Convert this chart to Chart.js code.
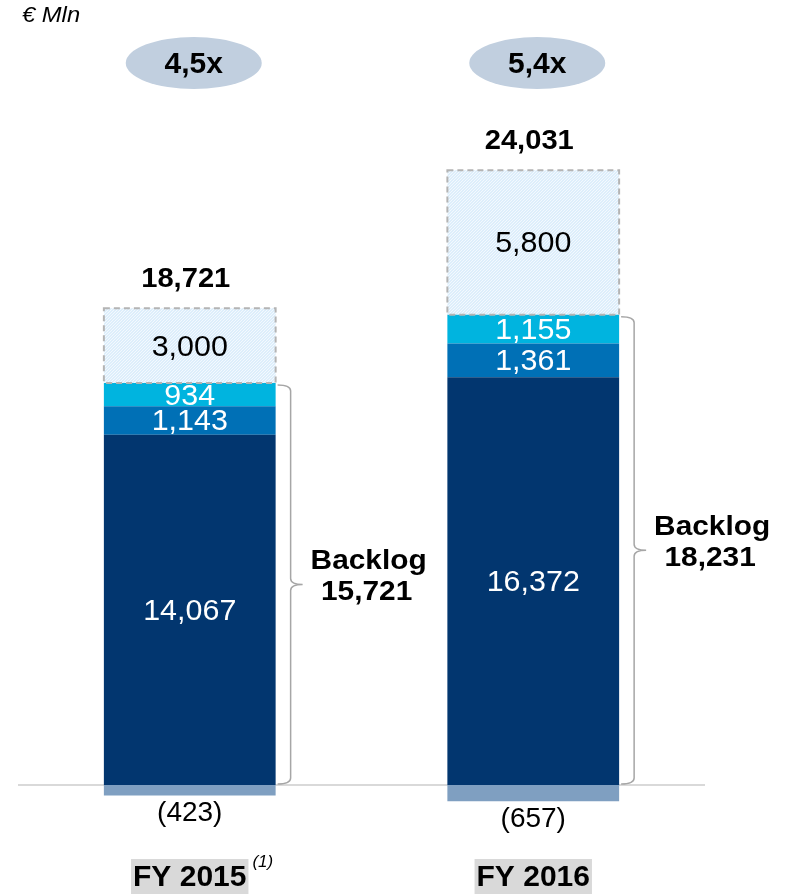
<!DOCTYPE html>
<html>
<head>
<meta charset="utf-8">
<script src="https://cdn.jsdelivr.net/npm/chart.js@4"></script>
<style>
  body { margin: 0; background: #fff; }
  #wrap { width: 787px; height: 894px; }
</style>
</head>
<body>
<div id="wrap"><canvas id="backlogChart"></canvas></div>
<script>
// Data
const categories = ["FY 2015", "FY 2016"];
const coreBacklog = [14067, 16372];
const midBacklog = [1143, 1361];
const topBacklog = [934, 1155];
const adjustments = [-423, -657];
const pipeline = [3000, 5800];
const totals = [18721, 24031];
const backlogTotals = [15721, 18231];
const multiples = ["4,5x", "5,4x"];

const FONT = "'Liberation Sans', Arial, sans-serif";

function fmt(v) {
  const s = Math.abs(v).toLocaleString("en-US");
  return v < 0 ? "(" + s + ")" : s;
}

// text slightly stretched sideways, like the original slide
function text(c, str, x, y, font, sx) {
  c.save();
  c.font = font;
  c.translate(x, y);
  c.scale(sx || 1, 1);
  c.fillText(str, 0, 0);
  c.restore();
}

// light blue hatch for the pipeline segment
function hatchPattern() {
  const c = document.createElement("canvas");
  c.width = 3;
  c.height = 3;
  const g = c.getContext("2d");
  g.fillStyle = "#DDEEFB";
  g.fillRect(0, 0, 3, 3);
  g.fillStyle = "#F3F9FE";
  g.fillRect(0, 0, 1, 1);
  g.fillRect(1, 2, 1, 1);
  g.fillRect(2, 1, 1, 1);
  return g.createPattern(c, "repeat");
}

const ctx = document.getElementById("backlogChart").getContext("2d");

const annotations = {
  id: "annotations",
  beforeDatasetsDraw(chart) {
    const c = chart.ctx;
    const y0 = chart.scales.y.getPixelForValue(0);
    c.save();
    c.strokeStyle = "#D9D9D9";
    c.lineWidth = 2;
    c.beginPath();
    c.moveTo(chart.chartArea.left, y0);
    c.lineTo(chart.chartArea.right, y0);
    c.stroke();
    c.restore();
  },
  afterDatasetsDraw(chart) {
    const c = chart.ctx;
    const y = chart.scales.y;
    const y0 = y.getPixelForValue(0);
    c.save();
    c.textAlign = "center";
    c.textBaseline = "middle";

    // segment labels
    const labelColors = ["#FFFFFF", "#FFFFFF", "#FFFFFF", "#000000", "#000000"];
    chart.data.datasets.forEach((ds, di) => {
      const meta = chart.getDatasetMeta(di);
      meta.data.forEach((bar, i) => {
        const v = ds.data[i];
        c.fillStyle = labelColors[di];
        if (v < 0) {
          text(c, fmt(v), bar.x, bar.y + 18, "28px " + FONT, 1);
        } else {
          text(c, fmt(v), bar.x, (bar.y + bar.base) / 2 + 2, "29px " + FONT, 1.05);
        }
        if (di === 4) {
          // dashed outline of the pipeline block
          c.strokeStyle = "#B4B4B4";
          c.lineWidth = 2;
          c.setLineDash([6, 4]);
          c.strokeRect(bar.x - bar.width / 2, bar.y, bar.width, bar.base - bar.y);
          c.setLineDash([]);
        }
      });
    });

    const pipeMeta = chart.getDatasetMeta(4);
    const topMeta = chart.getDatasetMeta(2);
    pipeMeta.data.forEach((bar, i) => {
      // totals above bars
      c.fillStyle = "#000";
      text(c, totals[i].toLocaleString("en-US"), bar.x - 4, bar.y - 29, "bold 28px " + FONT, 1.04);

      // multiple ellipses
      c.fillStyle = "#C1CFDF";
      c.beginPath();
      c.ellipse(bar.x + 4, 63, 68, 26, 0, 0, Math.PI * 2);
      c.fill();
      c.fillStyle = "#000";
      text(c, multiples[i], bar.x + 4, 65, "bold 30px " + FONT, 1);

      // brace
      const right = bar.x + bar.width / 2;
      const top = topMeta.data[i].y + 2;
      const bottom = y0 - 1;
      const mid = (top + bottom) / 2;
      const xs = right + 2, xv = right + 15, xt = right + 27, r = 6;
      c.strokeStyle = "#A6A6A6";
      c.lineWidth = 1.5;
      c.beginPath();
      c.moveTo(xs, top);
      c.quadraticCurveTo(xv, top, xv, top + r);
      c.lineTo(xv, mid - r);
      c.quadraticCurveTo(xv, mid, xt, mid);
      c.quadraticCurveTo(xv, mid, xv, mid + r);
      c.lineTo(xv, bottom - r);
      c.quadraticCurveTo(xv, bottom, xs, bottom);
      c.stroke();

      c.fillStyle = "#000";
      text(c, "Backlog", xt + 66, mid - 23, "bold 28px " + FONT, 1.065);
      text(c, backlogTotals[i].toLocaleString("en-US"), xt + 64, mid + 8, "bold 28px " + FONT, 1.065);

      // category labels with grey highlight
      c.font = "bold 30px " + FONT;
      const w = c.measureText(categories[i]).width;
      c.fillStyle = "#D9D9D9";
      c.fillRect(bar.x - w / 2 - 2, 859, w + 4, 40);
      c.fillStyle = "#000";
      text(c, categories[i], bar.x, 878, "bold 30px " + FONT, 1);
      if (i === 0) {
        c.textAlign = "left";
        text(c, "(1)", bar.x + w / 2 + 6, 862, "italic 17px " + FONT, 1);
        c.textAlign = "center";
      }
    });

    // unit
    c.textAlign = "left";
    c.fillStyle = "#000";
    text(c, "€ Mln", 22, 16, "italic 22px " + FONT, 1.08);
    c.restore();
  },
};

const backlogChart = new Chart(ctx, {
  type: "bar",
  data: {
    labels: categories,
    datasets: [
      { label: "Backlog core", data: coreBacklog, backgroundColor: "#02366F" },
      { label: "Backlog 2", data: midBacklog, backgroundColor: "#0070B6" },
      { label: "Backlog 3", data: topBacklog, backgroundColor: "#00B4DF" },
      { label: "Adjustments", data: adjustments, backgroundColor: "#7F9FC1" },
      { label: "Pipeline", data: pipeline, backgroundColor: hatchPattern() },
    ],
  },
  options: {
    responsive: true,
    maintainAspectRatio: false,
    animation: false,
    layout: { padding: { left: 18, right: 82, top: 0, bottom: 0 } },
    datasets: {
      bar: { barPercentage: 0.5, categoryPercentage: 1, borderWidth: 0 },
    },
    plugins: {
      legend: { display: false },
      tooltip: { enabled: false },
      title: { display: false },
    },
    scales: {
      x: { stacked: true, display: false },
      y: { stacked: true, display: false, min: -4378, max: 31526 },
    },
  },
  plugins: [annotations],
});
</script>
</body>
</html>
